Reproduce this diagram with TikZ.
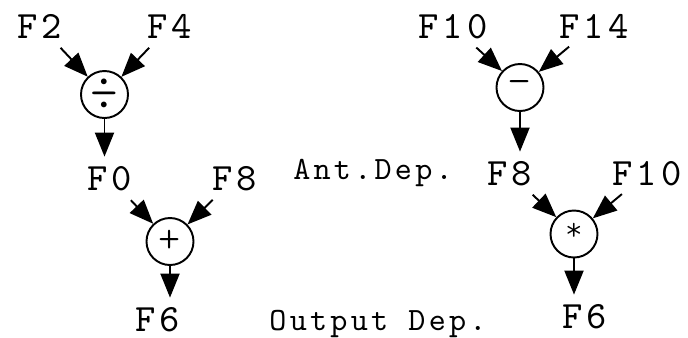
\documentclass[tikz,border=0pt]{standalone}
\usepackage{fontspec}
\newfontfamily\varfont[LetterSpace=10]{lmmono10-regular.otf}
\newfontfamily\opfont{lmmonolt10-regular.otf}
\usepackage{tikz}
\usetikzlibrary{positioning,arrows.meta,calc}
\tikzset{
  opnode/.style={circle, draw=black, line width=1.1pt, minimum size=0.94cm, inner sep=0pt, font=\opfont\fontsize{24}{24}\selectfont},
  varlabel/.style={anchor=base, inner sep=0pt, font=\varfont\fontsize{22}{22}\selectfont},
  deplabel/.style={anchor=base, inner sep=0pt, font=\varfont\fontsize{18.5}{18.5}\selectfont},
  inarr/.style={-{Triangle[length=0.48cm, width=0.38cm]}, line width=1.1pt, shorten <=0.26cm},
  outarr/.style={-{Triangle[length=0.48cm, width=0.38cm]}, line width=1.1pt, shorten >=0.18cm}
}
\begin{document}
\begin{tikzpicture}
  \useasboundingbox (0,0) rectangle (13.76,-6.74);
  % left tree
  \node[varlabel] (F2) at (0.80,-0.76) {F2};
  \node[varlabel] (F4) at (3.40,-0.76) {F4};
  \node[opnode] (div) at (2.09,-1.89) {\fontsize{30}{30}\selectfont ÷};
  \node[varlabel] (F0) at (2.20,-3.80) {F0};
  \node[varlabel] (F8a) at (4.70,-3.80) {F8};
  \node[opnode] (plus) at (3.40,-4.83) {+};
  \node[varlabel] (F6a) at (3.16,-6.62) {F6};
  \draw[inarr] (F2) -- (div); \draw[inarr] (F4) -- (div);
  \draw[outarr] (div) -- (div |- F0.north);
  \draw[inarr] (F0) -- (plus); \draw[inarr] (F8a) -- (plus);
  \draw[outarr] (plus) -- (plus |- F6a.north);
  % right tree
  \node[varlabel] (F10) at (9.06,-0.76) {F10};
  \node[varlabel] (F14) at (11.88,-0.76) {F14};
  \node[opnode] (minus) at (10.40,-1.75) {−};
  \node[varlabel] (F8b) at (10.20,-3.70) {F8};
  \node[varlabel] (F10b) at (12.94,-3.70) {F10};
  \node[opnode] (times) at (11.48,-4.68) {\raisebox{3pt}{\fontsize{19}{19}\selectfont *}};
  \node[varlabel] (F6b) at (11.70,-6.56) {F6};
  \draw[inarr] (F10) -- (minus); \draw[inarr] (F14) -- (minus);
  \draw[outarr] (minus) -- (minus |- F8b.north);
  \draw[inarr] (F8b) -- (times); \draw[inarr] (F10b) -- (times);
  \draw[outarr] (times) -- (times |- F6b.north);
  % dependence labels
  \node[deplabel] (ant) at (7.46,-3.58) {Ant.Dep.};
  \node[deplabel] (out) at (7.56,-6.60) {Output Dep.};
\end{tikzpicture}
\end{document}
